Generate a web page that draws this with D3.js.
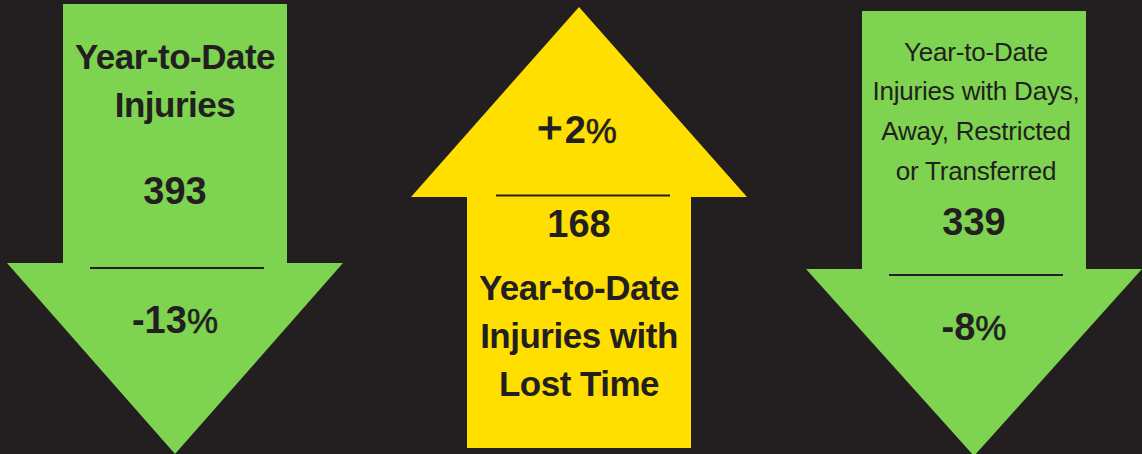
<!DOCTYPE html>
<html>
<head>
<meta charset="utf-8">
<script src="https://cdn.jsdelivr.net/npm/d3@7"></script>
<style>
  html, body { margin: 0; padding: 0; background: #231f20; }
  svg { display: block; }
</style>
</head>
<body>
<div id="chart"></div>
<script>
// valeurs du graphique
const keys = ["ytd", "lost", "restricted"];
const titles = [
  ["Year-to-Date", "Injuries"],
  ["Year-to-Date", "Injuries with", "Lost Time"],
  ["Year-to-Date", "Injuries with Days,", "Away, Restricted", "or Transferred"]
];
const totals = [393, 168, 339];
const changes = [-13, 2, -8];

const width = 1142, height = 454;
const bg = "#231f20", ink = "#231f20";
const green = "#7ed350", yellow = "#ffdf00";

// mise en page de chaque fleche (pas des donnees)
const layout = [
  { top: 4, join: 263, end: 454, titleY: [69, 117], bold: true, totalY: 204, ruleY: 268, ruleDx: 2, changeY: 333 },
  { top: 7, join: 197, end: 448, titleY: [300, 348, 396], bold: true, totalY: 237, ruleY: 195.5, ruleDx: 4, changeY: 143 },
  { top: 11, join: 269, end: 456, titleY: [61, 100, 140, 180], bold: false, totalY: 235, ruleY: 275, ruleDx: 2, changeY: 340 }
];

// centres des fleches
const x = d3.scaleOrdinal().domain(keys).range([175, 579, 974]);
const shaftHalf = 112, headHalf = 168, ruleHalf = 87;

const svg = d3.select("#chart").append("svg")
  .attr("width", width)
  .attr("height", height);

svg.append("rect").attr("width", width).attr("height", height).attr("fill", bg);

const line = d3.line();

keys.forEach(function(k, i) {
  const cx = x(k), L = layout[i];
  const down = changes[i] < 0;
  let pts;
  if (down) {
    pts = [[cx - shaftHalf, L.top], [cx + shaftHalf, L.top], [cx + shaftHalf, L.join],
           [cx + headHalf, L.join], [cx, L.end], [cx - headHalf, L.join], [cx - shaftHalf, L.join]];
  } else {
    pts = [[cx, L.top], [cx + headHalf, L.join], [cx + shaftHalf, L.join], [cx + shaftHalf, L.end],
           [cx - shaftHalf, L.end], [cx - shaftHalf, L.join], [cx - headHalf, L.join]];
  }
  const g = svg.append("g").attr("class", "arrow");
  g.append("path").attr("d", line(pts) + "Z").attr("fill", down ? green : yellow);

  // titre
  g.selectAll("text.title").data(titles[i]).enter().append("text")
    .attr("class", "title")
    .attr("x", L.bold ? cx : cx + 2)
    .attr("y", function(d, j) { return L.titleY[j]; })
    .attr("text-anchor", "middle")
    .attr("font-family", "'Liberation Sans', Arial, sans-serif")
    .attr("font-weight", L.bold ? "bold" : "normal")
    .attr("font-size", L.bold ? 35 : 26)
    .attr("letter-spacing", L.bold ? -0.5 : -0.2)
    .attr("fill", ink)
    .text(function(d) { return d; });

  // total
  g.append("text")
    .attr("x", cx)
    .attr("y", L.totalY)
    .attr("text-anchor", "middle")
    .attr("font-family", "'Liberation Sans', Arial, sans-serif")
    .attr("font-weight", "bold")
    .attr("font-size", 38)
    .attr("fill", ink)
    .text(totals[i]);

  // trait
  g.append("line")
    .attr("x1", cx - ruleHalf + L.ruleDx).attr("x2", cx + ruleHalf + L.ruleDx)
    .attr("y1", L.ruleY).attr("y2", L.ruleY)
    .attr("stroke", ink).attr("stroke-width", 2);

  // variation
  const t = g.append("text")
    .attr("x", cx)
    .attr("y", L.changeY)
    .attr("text-anchor", "middle")
    .attr("font-family", "'Liberation Sans', Arial, sans-serif")
    .attr("font-size", 38)
    .attr("fill", ink);
  if (changes[i] < 0) {
    t.append("tspan").attr("font-weight", "bold").text("-" + Math.abs(changes[i]));
  } else {
    t.append("tspan").attr("font-weight", "normal").attr("font-size", 44)
      .attr("stroke", ink).attr("stroke-width", 1.2).attr("dx", -2).text("+");
    t.append("tspan").attr("font-weight", "bold").attr("dx", 2).text(changes[i]);
  }
  t.append("tspan").attr("font-weight", "normal").attr("font-size", 35)
    .attr("stroke", ink).attr("stroke-width", 0.6).text("%");
});
</script>
</body>
</html>
